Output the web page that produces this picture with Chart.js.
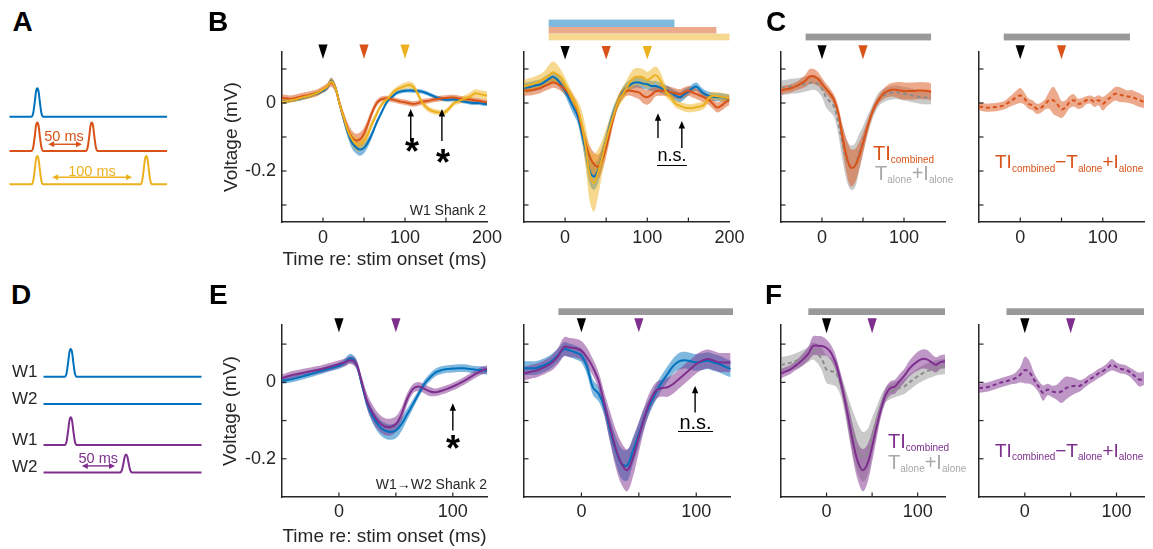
<!DOCTYPE html>
<html><head><meta charset="utf-8"><title>Figure</title>
<script src="https://cdn.jsdelivr.net/npm/chart.js@4.4.1/dist/chart.umd.min.js"></script>
<style>
html,body{margin:0;padding:0;background:#fff;}
body{width:1153px;height:549px;overflow:hidden;position:relative;font-family:"Liberation Sans",Arial,Helvetica,sans-serif;}
canvas{position:absolute;}
.tx{position:absolute;white-space:nowrap;line-height:1;}
.ul{position:absolute;height:1.5px;background:#000;}
</style></head><body>
<script>
// ================= DATA =================
const tB  = [-50,-45,-40,-35,-30,-25,-20,-15,-10,-5,0,5,10,15,20,25,30,35,40,45,50,55,60,65,70,75,80,85,90,95,100,105,110,115,120,125,130,135,140,145,150,155,160,165,170,175,180,185,190,195,200];
const tE  = [-50,-45,-40,-35,-30,-25,-20,-15,-10,-5,0,5,10,15,20,25,30,35,40,45,50,55,60,65,70,75,80,85,90,95,100,105,110,115,120,125,130];
const tCL = [-50,-45,-40,-35,-30,-25,-20,-15,-10,-5,0,5,10,15,20,25,30,35,40,45,50,55,60,65,70,75,80,85,90,95,100,105,110,115,120,125,130,133];
const tCR = [-50,-45,-40,-35,-30,-25,-20,-15,-10,-5,0,5,10,15,20,25,30,35,40,45,50,55,60,65,70,75,80,85,90,95,100,105,110,115,120,125,130,135,140,145,150];

// Panel B left (W1 Shank 2)
const BL_blue = [0.003,0.005,0.008,0.010,0.012,0.015,0.018,0.022,0.026,0.030,
 0.036,0.045,0.065,0.045,0.000,-0.045,-0.085,-0.115,-0.130,-0.137,
 -0.132,-0.115,-0.090,-0.060,-0.035,-0.010,0.010,0.020,0.030,0.034,
 0.036,0.037,0.036,0.035,0.034,0.030,0.025,0.020,0.015,0.012,
 0.010,0.010,0.010,0.008,0.005,0.003,0.001,0.000,0.000,-0.002,-0.003];
const BL_blueSem = [0.006,0.006,0.006,0.006,0.006,0.006,0.006,0.006,0.006,0.006,
 0.006,0.008,0.010,0.010,0.008,0.012,0.015,0.017,0.018,0.018,
 0.016,0.013,0.010,0.008,0.006,0.006,0.006,0.006,0.006,0.006,
 0.006,0.006,0.006,0.006,0.006,0.006,0.006,0.006,0.006,0.006,
 0.006,0.006,0.006,0.006,0.006,0.006,0.006,0.006,0.006,0.006,0.006];
const BL_orange = [0.015,0.014,0.012,0.014,0.017,0.020,0.022,0.025,0.028,0.033,
 0.040,0.048,0.060,0.045,0.000,-0.040,-0.075,-0.100,-0.110,-0.107,
 -0.090,-0.060,-0.027,-0.002,0.010,0.013,0.013,0.010,0.007,0.004,
 0.002,-0.001,-0.003,-0.001,0.003,0.005,0.007,0.010,0.012,0.014,
 0.015,0.016,0.016,0.014,0.012,0.011,0.010,0.008,0.007,0.004,0.002];
const BL_orangeSem = [0.010,0.010,0.010,0.010,0.010,0.010,0.010,0.010,0.010,0.010,
 0.010,0.010,0.012,0.012,0.012,0.015,0.018,0.020,0.020,0.020,
 0.018,0.015,0.012,0.010,0.008,0.008,0.008,0.008,0.008,0.008,
 0.008,0.008,0.008,0.008,0.008,0.008,0.008,0.008,0.008,0.008,
 0.008,0.008,0.008,0.008,0.008,0.008,0.008,0.008,0.008,0.008,0.008];
const BL_yellow = [0.003,0.005,0.008,0.010,0.013,0.016,0.019,0.022,0.027,0.032,
 0.040,0.048,0.063,0.045,0.000,-0.040,-0.080,-0.105,-0.120,-0.122,
 -0.112,-0.090,-0.060,-0.035,-0.010,0.005,0.015,0.030,0.040,0.045,
 0.050,0.053,0.048,0.030,0.005,-0.010,-0.020,-0.025,-0.027,-0.030,
 -0.025,-0.013,0.000,0.005,0.010,0.015,0.020,0.028,0.027,0.024,0.022];
const BL_yellowSem = [0.007,0.007,0.007,0.007,0.007,0.007,0.007,0.007,0.007,0.007,
 0.007,0.008,0.010,0.010,0.010,0.012,0.015,0.018,0.020,0.020,
 0.018,0.015,0.012,0.010,0.008,0.008,0.008,0.008,0.008,0.010,
 0.010,0.010,0.010,0.010,0.010,0.010,0.008,0.008,0.008,0.008,
 0.008,0.008,0.008,0.008,0.010,0.010,0.012,0.012,0.012,0.012,0.012];

// Panel B right
const BR_blue = [0.044,0.046,0.049,0.052,0.055,0.062,0.070,0.077,0.070,0.055,
 0.036,0.012,-0.013,-0.037,-0.085,-0.140,-0.200,-0.216,-0.200,-0.158,
 -0.110,-0.060,-0.022,0.007,0.031,0.046,0.055,0.060,0.060,0.057,
 0.055,0.050,0.050,0.046,0.040,0.036,0.028,0.021,0.017,0.026,
 0.034,0.044,0.048,0.036,0.026,0.021,0.018,0.017,0.017,0.015,0.012];
const BR_blueSem = [0.015,0.015,0.015,0.015,0.015,0.015,0.015,0.015,0.015,0.015,
 0.015,0.018,0.020,0.020,0.025,0.035,0.040,0.040,0.035,0.030,
 0.025,0.020,0.018,0.015,0.015,0.015,0.015,0.015,0.015,0.015,
 0.015,0.015,0.015,0.015,0.015,0.015,0.015,0.015,0.015,0.015,
 0.012,0.012,0.012,0.012,0.012,0.012,0.012,0.012,0.012,0.012,0.012];
const BR_orange = [0.036,0.037,0.038,0.041,0.044,0.050,0.055,0.060,0.057,0.050,
 0.040,0.026,0.007,-0.022,-0.070,-0.120,-0.158,-0.180,-0.187,-0.168,
 -0.130,-0.080,-0.032,0.007,0.026,0.036,0.036,0.034,0.031,0.021,
 0.017,0.024,0.034,0.036,0.036,0.034,0.031,0.028,0.026,0.031,
 0.036,0.031,0.026,0.021,0.015,0.009,-0.003,-0.013,-0.008,0.002,0.009];
const BR_orangeSem = [0.015,0.015,0.015,0.015,0.015,0.015,0.015,0.015,0.015,0.015,
 0.015,0.015,0.015,0.018,0.022,0.028,0.032,0.035,0.035,0.032,
 0.028,0.022,0.018,0.015,0.015,0.015,0.015,0.018,0.020,0.022,
 0.022,0.020,0.015,0.015,0.015,0.015,0.015,0.015,0.015,0.015,
 0.015,0.015,0.015,0.015,0.015,0.015,0.015,0.015,0.015,0.015,0.015];
const BR_yellow = [0.048,0.052,0.055,0.060,0.065,0.072,0.080,0.090,0.085,0.075,
 0.055,0.030,0.007,-0.015,-0.060,-0.130,-0.210,-0.235,-0.205,-0.160,
 -0.110,-0.066,-0.027,0.007,0.026,0.046,0.065,0.077,0.077,0.075,
 0.067,0.075,0.082,0.070,0.046,0.026,0.012,-0.003,-0.008,-0.013,
 -0.015,-0.015,-0.012,-0.010,-0.003,0.016,0.021,0.020,0.018,0.016,0.014];
const BR_yellowSem = [0.020,0.020,0.020,0.020,0.020,0.022,0.030,0.032,0.030,0.022,
 0.020,0.020,0.020,0.022,0.040,0.060,0.080,0.085,0.070,0.050,
 0.035,0.025,0.020,0.020,0.020,0.022,0.025,0.025,0.025,0.025,
 0.025,0.025,0.025,0.025,0.020,0.015,0.012,0.012,0.012,0.012,
 0.012,0.012,0.012,0.012,0.012,0.012,0.012,0.012,0.012,0.012,0.012];

// Panel C left (TI combined vs T alone + I alone)
const CL_comb = [0.037,0.040,0.042,0.046,0.051,0.058,0.066,0.078,0.078,0.071,
 0.056,0.042,0.027,0.008,-0.031,-0.100,-0.157,-0.190,-0.186,-0.157,
 -0.118,-0.075,-0.036,-0.007,0.013,0.027,0.035,0.039,0.039,0.037,
 0.035,0.035,0.035,0.036,0.037,0.036,0.035,0.032];
const CL_combSem = [0.012,0.012,0.012,0.012,0.012,0.015,0.018,0.022,0.022,0.020,
 0.018,0.015,0.015,0.015,0.020,0.035,0.050,0.055,0.050,0.040,
 0.030,0.020,0.015,0.012,0.012,0.015,0.018,0.020,0.022,0.025,
 0.025,0.025,0.025,0.025,0.025,0.025,0.025,0.025];
const CL_sum = [0.045,0.046,0.048,0.050,0.051,0.053,0.056,0.059,0.061,0.055,
 0.042,0.017,0.003,-0.012,-0.060,-0.118,-0.167,-0.190,-0.185,-0.148,
 -0.109,-0.070,-0.036,-0.007,0.013,0.022,0.027,0.030,0.032,0.030,
 0.027,0.025,0.022,0.020,0.017,0.016,0.016,0.016];
const CL_sumSem = [0.022,0.022,0.022,0.022,0.022,0.022,0.022,0.022,0.022,0.022,
 0.025,0.030,0.030,0.030,0.035,0.050,0.060,0.065,0.065,0.055,
 0.040,0.030,0.022,0.020,0.020,0.020,0.020,0.020,0.020,0.020,
 0.020,0.020,0.020,0.020,0.020,0.020,0.020,0.020];

// Panel C right (difference)
const CR_diff = [-0.010,-0.012,-0.014,-0.013,-0.012,-0.010,-0.007,0.000,0.008,0.016,
 0.022,0.013,-0.002,-0.007,-0.017,-0.014,-0.004,0.008,0.008,-0.004,
 -0.019,-0.012,0.003,0.008,-0.002,0.000,0.008,0.010,0.003,0.008,
 -0.002,0.008,0.018,0.027,0.025,0.022,0.019,0.018,0.013,0.008,0.003];
const CR_diffSem = [0.012,0.012,0.012,0.012,0.012,0.012,0.012,0.014,0.016,0.020,
 0.022,0.018,0.015,0.015,0.015,0.015,0.015,0.025,0.040,0.035,
 0.025,0.020,0.018,0.018,0.015,0.015,0.012,0.012,0.015,0.015,
 0.020,0.018,0.018,0.020,0.022,0.020,0.018,0.020,0.020,0.020,0.018];

// Panel E left (W1->W2 Shank 2)
const EL_blue = [0.004,0.006,0.009,0.013,0.017,0.021,0.026,0.030,0.035,0.039,
 0.043,0.052,0.063,0.050,-0.004,-0.057,-0.091,-0.113,-0.126,-0.130,
 -0.126,-0.109,-0.083,-0.057,-0.030,-0.004,0.013,0.026,0.032,0.035,
 0.036,0.037,0.037,0.035,0.033,0.032,0.030];
const EL_blueSem = [0.008,0.008,0.008,0.008,0.008,0.008,0.008,0.008,0.008,0.008,
 0.008,0.010,0.012,0.012,0.012,0.015,0.018,0.020,0.020,0.020,
 0.020,0.018,0.015,0.012,0.010,0.010,0.010,0.010,0.010,0.010,
 0.010,0.010,0.010,0.010,0.010,0.010,0.010];
const EL_purple = [0.011,0.016,0.020,0.023,0.026,0.029,0.032,0.035,0.039,0.043,
 0.048,0.052,0.058,0.050,0.000,-0.052,-0.083,-0.104,-0.115,-0.117,
 -0.109,-0.083,-0.043,-0.017,-0.011,-0.017,-0.024,-0.026,-0.022,-0.017,
 -0.011,-0.004,0.004,0.013,0.022,0.030,0.035];
const EL_purpleSem = [0.010,0.010,0.010,0.010,0.010,0.010,0.010,0.010,0.010,0.010,
 0.010,0.010,0.010,0.012,0.015,0.020,0.022,0.022,0.022,0.022,
 0.020,0.018,0.015,0.012,0.012,0.012,0.012,0.010,0.010,0.010,
 0.010,0.010,0.010,0.010,0.010,0.010,0.010];

// Panel E right
const ER_blue = [0.037,0.037,0.037,0.042,0.048,0.058,0.072,0.087,0.083,0.078,
 0.070,0.039,-0.013,-0.030,-0.065,-0.126,-0.178,-0.213,-0.217,-0.178,
 -0.135,-0.091,-0.057,-0.026,0.000,0.022,0.043,0.055,0.058,0.055,
 0.052,0.054,0.057,0.052,0.048,0.041,0.035];
const ER_blueSem = [0.018,0.018,0.018,0.018,0.018,0.018,0.018,0.018,0.018,0.018,
 0.018,0.020,0.020,0.020,0.022,0.030,0.035,0.040,0.040,0.035,
 0.030,0.025,0.020,0.020,0.020,0.020,0.020,0.022,0.022,0.022,
 0.022,0.022,0.022,0.022,0.022,0.022,0.022];
const ER_purple = [0.023,0.027,0.030,0.036,0.043,0.053,0.070,0.093,0.091,0.089,
 0.083,0.065,0.039,0.004,-0.057,-0.117,-0.174,-0.213,-0.230,-0.196,
 -0.143,-0.091,-0.048,-0.022,-0.015,-0.013,-0.004,0.009,0.022,0.035,
 0.048,0.057,0.061,0.057,0.052,0.052,0.052];
const ER_purpleSem = [0.018,0.018,0.018,0.018,0.018,0.020,0.022,0.025,0.025,0.025,
 0.025,0.025,0.022,0.022,0.030,0.040,0.050,0.055,0.055,0.050,
 0.040,0.030,0.025,0.022,0.022,0.025,0.025,0.025,0.025,0.025,
 0.025,0.025,0.025,0.025,0.025,0.025,0.025];

// Panel F left
const FL_comb = [0.023,0.028,0.033,0.042,0.051,0.062,0.075,0.095,0.096,0.095,
 0.090,0.077,0.051,0.007,-0.046,-0.107,-0.168,-0.212,-0.230,-0.212,
 -0.168,-0.116,-0.068,-0.032,-0.015,-0.011,0.003,0.016,0.033,0.046,
 0.055,0.061,0.060,0.053,0.046,0.053,0.055];
const FL_combSem = [0.012,0.012,0.012,0.012,0.014,0.016,0.018,0.025,0.025,0.025,
 0.022,0.020,0.020,0.020,0.025,0.035,0.045,0.050,0.055,0.050,
 0.040,0.030,0.020,0.018,0.018,0.018,0.018,0.018,0.020,0.022,
 0.025,0.025,0.025,0.022,0.020,0.018,0.018];
const FL_sum = [0.046,0.048,0.051,0.055,0.060,0.066,0.073,0.082,0.075,0.060,
 0.033,0.029,0.025,-0.002,-0.046,-0.098,-0.142,-0.177,-0.195,-0.182,
 -0.142,-0.098,-0.059,-0.032,-0.024,-0.019,-0.015,-0.011,-0.002,0.007,
 0.016,0.023,0.029,0.033,0.038,0.040,0.042];
const FL_sumSem = [0.020,0.020,0.020,0.020,0.020,0.020,0.020,0.022,0.025,0.030,
 0.035,0.035,0.035,0.030,0.035,0.050,0.060,0.065,0.065,0.060,
 0.050,0.035,0.025,0.020,0.020,0.020,0.020,0.020,0.020,0.020,
 0.020,0.020,0.020,0.020,0.020,0.020,0.020];

// Panel F right
const FR_diff = [-0.015,-0.014,-0.012,-0.008,-0.004,0.000,0.003,0.007,0.011,0.020,
 0.032,0.026,0.007,-0.011,-0.028,-0.019,-0.024,-0.026,-0.024,-0.015,
 -0.011,-0.009,-0.009,-0.002,0.007,0.014,0.023,0.029,0.038,0.046,
 0.040,0.035,0.033,0.026,0.016,0.007,0.011];
const FR_diffSem = [0.012,0.012,0.012,0.012,0.012,0.012,0.012,0.012,0.015,0.020,
 0.035,0.030,0.018,0.015,0.020,0.015,0.015,0.020,0.030,0.030,
 0.025,0.020,0.015,0.012,0.012,0.012,0.012,0.012,0.012,0.015,
 0.012,0.012,0.012,0.012,0.015,0.018,0.018];

// Tick positions / labels
const xTicksB = [0,50,100,150,200], xLabelsB = ['0','','100','','200'];
const xTicksC = [0,50,100], xLabelsC = ['0','','100'];
const xTicksE = [0,50,100], xLabelsE = ['0','','100'];
const yTicksTop = [0.1,0,-0.1,-0.2,-0.3], yLabelsTop = ['','0','','-0.2',''];
const yTicksBot = [0.1,0,-0.1,-0.2], yLabelsBot = ['','0','','-0.2'];

// Significance bars (ms) and stimulus markers (ms)
const sigB = [[-20,133],[-20,184],[-20,200]];
const sigC = [-20,133], sigE = [-20,132], sigF = [-20,130];
const stimB = [0,50,100], stimTwo = [0,50];

// Schematic pulse template and stimulus trains
const pulseT = [-5.5,-3.8,-2.4,-1.2,0,1.2,2.4,3.8,5.5];
const pulseV = [0,0.12,0.5,0.88,1,0.88,0.5,0.12,0];
const schemA_onsets = [[0],[0,50],[0,100]];
const schemA_heights = [[1],[1,1],[1,1]];
const schemA_base = [0,-1.21,-2.39];
const schemD_onsets = [[0],[],[0],[50]];
const schemD_heights = [[1],[],[1],[0.65]];
const schemD_base = [0,-0.986,-2.466,-3.46];

// ================= RENDER =================
Chart.defaults.font.family = '"Liberation Sans", Arial, Helvetica, sans-serif';
Chart.defaults.color = '#262626';
const COL = {blue:'#0072BD', orange:'#D95319', yellow:'#EDB120', purple:'#7E2F8E', gray:'#8c8c8c', black:'#000'};
const BAND = {blue:'rgba(0,114,189,0.5)', orange:'rgba(217,83,25,0.5)', yellow:'rgba(237,177,32,0.5)', purple:'rgba(126,47,142,0.5)', gray:'rgba(128,128,128,0.42)'};
const BAR = {blue:'#80b9de', orange:'#ecaa8d', yellow:'#f6d890', gray:'#999999'};

function makeDeco(o) {
  return {
    id: 'deco',
    afterDraw(chart) {
      const ctx = chart.ctx, ca = chart.chartArea, xs = chart.scales.x, ys = chart.scales.y;
      ctx.save();
      if (o.inTicks) {
        ctx.strokeStyle = '#262626'; ctx.lineWidth = 1.2;
        o.inTicks.x.forEach(v => { if (v <= xs.min || v >= xs.max) return; const px = xs.getPixelForValue(v); ctx.beginPath(); ctx.moveTo(px, ca.bottom); ctx.lineTo(px, ca.bottom - 4.5); ctx.stroke(); });
        o.inTicks.y.forEach(v => { if (v <= ys.min || v >= ys.max) return; const py = ys.getPixelForValue(v); ctx.beginPath(); ctx.moveTo(ca.left, py); ctx.lineTo(ca.left + 4.5, py); ctx.stroke(); });
      }
      (o.bars || []).forEach(b => {
        const x0 = xs.getPixelForValue(b.x0), x1 = xs.getPixelForValue(b.x1);
        ctx.fillStyle = b.color; ctx.fillRect(x0, ca.top + b.dy, x1 - x0, b.h);
      });
      (o.tris || []).forEach(tr => {
        const px = xs.getPixelForValue(tr.x), y0 = ca.top + o.triDy;
        ctx.fillStyle = tr.color; ctx.beginPath();
        ctx.moveTo(px - 4.6, y0); ctx.lineTo(px + 4.6, y0); ctx.lineTo(px, y0 + o.triH); ctx.closePath(); ctx.fill();
      });
      (o.vArrows || []).forEach(a => {
        const px = xs.getPixelForValue(a.x), y0 = ys.getPixelForValue(a.y0), y1 = ys.getPixelForValue(a.y1);
        ctx.strokeStyle = '#000'; ctx.fillStyle = '#000'; ctx.lineWidth = 1.4;
        ctx.beginPath(); ctx.moveTo(px, y0); ctx.lineTo(px, y1 + 5); ctx.stroke();
        ctx.beginPath(); ctx.moveTo(px, y1); ctx.lineTo(px - 3.2, y1 + 7.5); ctx.lineTo(px + 3.2, y1 + 7.5); ctx.closePath(); ctx.fill();
      });
      (o.hArrows || []).forEach(a => {
        const x0 = xs.getPixelForValue(a.x0), x1 = xs.getPixelForValue(a.x1), py = ys.getPixelForValue(a.y);
        ctx.strokeStyle = a.color; ctx.fillStyle = a.color; ctx.lineWidth = 1.4;
        ctx.beginPath(); ctx.moveTo(x0 + 4, py); ctx.lineTo(x1 - 4, py); ctx.stroke();
        ctx.beginPath(); ctx.moveTo(x0, py); ctx.lineTo(x0 + 6, py - 3); ctx.lineTo(x0 + 6, py + 3); ctx.closePath(); ctx.fill();
        ctx.beginPath(); ctx.moveTo(x1, py); ctx.lineTo(x1 - 6, py - 3); ctx.lineTo(x1 - 6, py + 3); ctx.closePath(); ctx.fill();
      });
      ctx.restore();
    }
  };
}

function bandDatasets(series) {
  const bands = [], lines = [], n = series.length;
  series.forEach((s, k) => {
    const up = s.t.map((t, i) => ({x: t, y: s.m[i] + s.e[i]}));
    const lo = s.t.map((t, i) => ({x: t, y: s.m[i] - s.e[i]}));
    const mid = s.t.map((t, i) => ({x: t, y: s.m[i]}));
    const common = {pointRadius: 0, tension: 0.35, borderWidth: 0, borderColor: 'rgba(0,0,0,0)'};
    bands.push(Object.assign({data: up, fill: '+1', backgroundColor: BAND[s.c], order: 100 + n - k}, common));
    bands.push(Object.assign({data: lo, fill: false, order: 100 + n - k}, common));
    lines.push({data: mid, fill: false, borderColor: s.lc || COL[s.c], borderWidth: 2, borderDash: s.dash || [],
      pointRadius: 0, tension: 0.35, order: n - k, borderCapStyle: 'butt', borderJoinStyle: 'round'});
  });
  return bands.concat(lines);
}

function newCanvas(l, t, r, b, ML, MT, MR, MB) {
  const cl = Math.floor(l - ML), ct = Math.floor(t - MT);
  const W = Math.ceil(r + MR) - cl, H = Math.ceil(b + MB) - ct;
  const cv = document.createElement('canvas');
  cv.width = W; cv.height = H;
  cv.style.left = cl + 'px'; cv.style.top = ct + 'px';
  cv.style.width = W + 'px'; cv.style.height = H + 'px';
  document.body.appendChild(cv);
  return {cv, cl, ct, W, H};
}

function axisPanel(p) {
  const g = newCanvas(p.l, p.t, p.r, p.b, 80, 50, 30, 56);
  const yW = p.l - g.cl, padT = p.t - g.ct, padR = g.cl + g.W - p.r, xH = g.ct + g.H - p.b;
  const axisCol = '#262626';
  new Chart(g.cv, {
    type: 'line',
    data: {datasets: bandDatasets(p.series)},
    options: {
      responsive: false, animation: false, events: [], devicePixelRatio: 1,
      layout: {padding: {left: 0, top: padT, right: padR, bottom: 0}},
      plugins: {legend: {display: false}, tooltip: {enabled: false}},
      scales: {
        x: {type: 'linear', min: p.xr[0], max: p.xr[1],
          afterFit: s => { s.height = xH; },
          afterBuildTicks: s => { s.ticks = p.xt.map(v => ({value: v})); },
          ticks: {autoSkip: false, maxRotation: 0, padding: p.xPad, font: {size: 18}, color: axisCol, callback: (v, i) => p.xl[i]},
          grid: {display: false, drawTicks: false},
          border: {display: true, color: axisCol, width: 1.5},
          title: p.xTitle ? {display: true, text: p.xTitle, color: axisCol, font: {size: 19}, padding: {top: 0, bottom: (g.ct + g.H) - p.xTitleY - 11.4}} : {display: false}
        },
        y: {type: 'linear', min: p.yr[0], max: p.yr[1],
          afterFit: s => { s.width = yW; },
          afterBuildTicks: s => { s.ticks = p.yt.map(v => ({value: v})); },
          ticks: {autoSkip: false, padding: 6, font: {size: 18}, color: axisCol, callback: (v, i) => p.yl[i]},
          grid: {display: false, drawTicks: false},
          border: {display: true, color: axisCol, width: 1.5},
          title: p.yTitle ? {display: true, text: p.yTitle, color: axisCol, font: {size: 19}, padding: {top: p.yTitleX - g.cl - 11.4, bottom: 0}} : {display: false}
        }
      }
    },
    plugins: [makeDeco(Object.assign({inTicks: {x: p.xt, y: p.yt}}, p.deco))]
  });
}

function buildTrace(onsets, heights, base, x0, x1) {
  const pts = [{x: x0, y: base}];
  onsets.forEach((on, j) => pulseT.forEach((dt, i) => pts.push({x: on + dt, y: base + heights[j] * pulseV[i]})));
  pts.push({x: x1, y: base});
  return pts;
}

function schemPanel(p) {
  const g = newCanvas(p.l, p.t, p.r, p.b, 8, 8, 8, 8);
  const ds = p.onsets.map((on, k) => ({
    data: buildTrace(on, p.heights[k], p.base[k], p.xr[0], p.xr[1]),
    borderColor: p.colors[k], borderWidth: 2, pointRadius: 0, fill: false, cubicInterpolationMode: 'monotone'
  }));
  new Chart(g.cv, {
    type: 'line', data: {datasets: ds},
    options: {
      responsive: false, animation: false, events: [], devicePixelRatio: 1,
      layout: {padding: {left: p.l - g.cl, top: p.t - g.ct, right: g.cl + g.W - p.r, bottom: g.ct + g.H - p.b}},
      plugins: {legend: {display: false}, tooltip: {enabled: false}},
      scales: {x: {type: 'linear', display: false, min: p.xr[0], max: p.xr[1]},
               y: {type: 'linear', display: false, min: p.yr[0], max: p.yr[1]}}
    },
    plugins: [makeDeco({hArrows: p.arrows})]
  });
}

// ---- Schematics A and D ----
schemPanel({l: 9.3, r: 167.3, t: 82.7, b: 193.1, xr: [-25.7, 119.3], yr: [-2.7, 1.2],
  onsets: schemA_onsets, heights: schemA_heights, base: schemA_base, colors: [COL.blue, COL.orange, COL.yellow],
  arrows: [{x0: 10, x1: 41, y: -0.975, color: COL.orange}, {x0: 13.6, x1: 87, y: -2.14, color: COL.yellow}]});
schemPanel({l: 43.3, r: 201.7, t: 343.5, b: 479.2, xr: [-24.8, 118.4], yr: [-3.7, 1.2],
  onsets: schemD_onsets, heights: schemD_heights, base: schemD_base, colors: [COL.blue, COL.blue, COL.purple, COL.purple],
  arrows: [{x0: 10, x1: 40, y: -3.22, color: COL.purple}]});

// ---- Row 1 ----
const topRow = {t: 52, b: 222, yr: [-0.35, 0.15], yt: yTicksTop, xPad: 5.5};
axisPanel(Object.assign({}, topRow, {l: 282, r: 487, xr: [-50, 200], xt: xTicksB, xl: xLabelsB, yl: yLabelsTop,
  xTitle: 'Time re: stim onset (ms)', xTitleY: 260, yTitle: 'Voltage (mV)', yTitleX: 231.7,
  series: [{t: tB, m: BL_blue, e: BL_blueSem, c: 'blue'}, {t: tB, m: BL_orange, e: BL_orangeSem, c: 'orange'}, {t: tB, m: BL_yellow, e: BL_yellowSem, c: 'yellow'}],
  deco: {triDy: -7.5, triH: 14.5, tris: [{x: stimB[0], color: COL.black}, {x: stimB[1], color: COL.orange}, {x: stimB[2], color: COL.yellow}],
    vArrows: [{x: 107, y0: -0.112, y1: -0.018}, {x: 145, y0: -0.112, y1: -0.018}]}}));
axisPanel(Object.assign({}, topRow, {l: 524, r: 729.5, xr: [-50, 200], xt: xTicksB, xl: xLabelsB, yl: ['', '', '', '', ''],
  series: [{t: tB, m: BR_blue, e: BR_blueSem, c: 'blue'}, {t: tB, m: BR_orange, e: BR_orangeSem, c: 'orange'}, {t: tB, m: BR_yellow, e: BR_yellowSem, c: 'yellow'}],
  deco: {triDy: -6, triH: 13.5, tris: [{x: stimB[0], color: COL.black}, {x: stimB[1], color: COL.orange}, {x: stimB[2], color: COL.yellow}],
    bars: [{x0: sigB[0][0], x1: sigB[0][1], dy: -32.4, h: 7.4, color: BAR.blue}, {x0: sigB[1][0], x1: sigB[1][1], dy: -25, h: 6.6, color: BAR.orange}, {x0: sigB[2][0], x1: sigB[2][1], dy: -18.4, h: 6.7, color: BAR.yellow}],
    vArrows: [{x: 113, y0: -0.103, y1: -0.03}, {x: 142, y0: -0.132, y1: -0.053}]}}));
axisPanel(Object.assign({}, topRow, {l: 781, r: 945, xr: [-50, 150], xt: xTicksC, xl: xLabelsC, yl: ['', '', '', '', ''],
  series: [{t: tCL, m: CL_sum, e: CL_sumSem, c: 'gray', lc: '#8c8c8c', dash: [4, 3]}, {t: tCL, m: CL_comb, e: CL_combSem, c: 'orange'}],
  deco: {triDy: -6.7, triH: 14, tris: [{x: stimTwo[0], color: COL.black}, {x: stimTwo[1], color: COL.orange}],
    bars: [{x0: sigC[0], x1: sigC[1], dy: -18.4, h: 6.8, color: BAR.gray}]}}));
axisPanel(Object.assign({}, topRow, {l: 979, r: 1144, xr: [-50, 150], xt: xTicksC, xl: xLabelsC, yl: ['', '', '', '', ''],
  series: [{t: tCR, m: CR_diff, e: CR_diffSem, c: 'orange', dash: [4, 3]}],
  deco: {triDy: -6.7, triH: 14, tris: [{x: stimTwo[0], color: COL.black}, {x: stimTwo[1], color: COL.orange}],
    bars: [{x0: sigC[0], x1: sigC[1], dy: -18.4, h: 6.8, color: BAR.gray}]}}));

// ---- Row 2 ----
const botRow = {t: 325, b: 497, yr: [-0.3, 0.15], yt: yTicksBot, xPad: 4};
axisPanel(Object.assign({}, botRow, {l: 282, r: 487, xr: [-50, 130], xt: xTicksE, xl: xLabelsE, yl: yLabelsBot,
  xTitle: 'Time re: stim onset (ms)', xTitleY: 537, yTitle: 'Voltage (mV)', yTitleX: 230.5,
  series: [{t: tE, m: EL_blue, e: EL_blueSem, c: 'blue'}, {t: tE, m: EL_purple, e: EL_purpleSem, c: 'purple'}],
  deco: {triDy: -6.7, triH: 14, tris: [{x: stimTwo[0], color: COL.black}, {x: stimTwo[1], color: COL.purple}],
    vArrows: [{x: 100, y0: -0.126, y1: -0.055}]}}));
axisPanel(Object.assign({}, botRow, {l: 524, r: 730.7, xr: [-50, 130], xt: xTicksE, xl: xLabelsE, yl: ['', '', '', ''],
  series: [{t: tE, m: ER_blue, e: ER_blueSem, c: 'blue'}, {t: tE, m: ER_purple, e: ER_purpleSem, c: 'purple'}],
  deco: {triDy: -6.7, triH: 14, tris: [{x: stimTwo[0], color: COL.black}, {x: stimTwo[1], color: COL.purple}],
    bars: [{x0: sigE[0], x1: sigE[1], dy: -16.7, h: 6.7, color: BAR.gray}],
    vArrows: [{x: 99, y0: -0.079, y1: -0.009}]}}));
axisPanel(Object.assign({}, botRow, {l: 781, r: 945, xr: [-50, 130], xt: xTicksE, xl: xLabelsE, yl: ['', '', '', ''],
  series: [{t: tE, m: FL_sum, e: FL_sumSem, c: 'gray', lc: '#8c8c8c', dash: [4, 3]}, {t: tE, m: FL_comb, e: FL_combSem, c: 'purple'}],
  deco: {triDy: -6.7, triH: 15, tris: [{x: stimTwo[0], color: COL.black}, {x: stimTwo[1], color: COL.purple}],
    bars: [{x0: sigF[0], x1: sigF[1], dy: -16.7, h: 6.7, color: BAR.gray}]}}));
axisPanel(Object.assign({}, botRow, {l: 979, r: 1144, xr: [-50, 130], xt: xTicksE, xl: xLabelsE, yl: ['', '', '', ''],
  series: [{t: tE, m: FR_diff, e: FR_diffSem, c: 'purple', dash: [4, 3]}],
  deco: {triDy: -6.7, triH: 15, tris: [{x: stimTwo[0], color: COL.black}, {x: stimTwo[1], color: COL.purple}],
    bars: [{x0: sigF[0], x1: sigF[1], dy: -16.7, h: 6.7, color: BAR.gray}]}}));

// ---- Text ----
function text(html, x, baseline, size, color, align, weight) {
  const d = document.createElement('div');
  d.className = 'tx';
  d.innerHTML = html;
  d.style.fontSize = size + 'px';
  d.style.color = color;
  if (weight) d.style.fontWeight = weight;
  d.style.left = x + 'px';
  d.style.top = (baseline - 0.8465 * size) + 'px';
  if (align === 'center') d.style.transform = 'translateX(-50%)';
  if (align === 'right') d.style.transform = 'translateX(-100%)';
  document.body.appendChild(d);
  return d;
}
function uline(x0, x1, y) {
  const d = document.createElement('div'); d.className = 'ul';
  d.style.left = x0 + 'px'; d.style.width = (x1 - x0) + 'px'; d.style.top = (y - 0.75) + 'px';
  document.body.appendChild(d);
}
const sub = (s, dy) => '<span style="font-size:10px;position:relative;top:' + (dy || 3) + 'px">' + s + '</span>';

// panel letters
[['A', 12.5, 31.7], ['B', 208, 31.7], ['C', 766, 31.7], ['D', 11, 305], ['E', 209, 305], ['F', 765, 305]].forEach(a => text(a[0], a[1], a[2], 28, '#000', 'left', 'bold'));

// schematic labels
text('50 ms', 64, 141.5, 14.5, COL.orange, 'center');
text('100 ms', 92, 176.3, 14.5, COL.yellow, 'center');
text('W1', 37.5, 377.3, 17, '#262626', 'right');
text('W2', 37.5, 404.3, 17, '#262626', 'right');
text('W1', 37.5, 445.3, 17, '#262626', 'right');
text('W2', 37.5, 472.7, 17, '#262626', 'right');
text('50 ms', 98.3, 463.3, 14.5, COL.purple, 'center');

// annotations
text('W1 Shank 2', 486, 215, 14, '#262626', 'right');
text('W1\u2192W2 Shank 2', 487, 489, 14, '#262626', 'right');
text('*', 412, 164, 36, '#000', 'center', 'bold');
text('*', 443, 175, 36, '#000', 'center', 'bold');
text('*', 453, 461, 36, '#000', 'center', 'bold');
text('n.s.', 672, 161.7, 18, '#000', 'center');
uline(657, 687, 165.7);
text('n.s.', 695.5, 428.5, 20, '#000', 'center');
uline(678, 713, 431.7);

// TI labels
text('TI' + sub('combined'), 873, 160, 20, COL.orange, 'left');
text('T' + sub('alone') + '+I' + sub('alone'), 875, 180, 20, '#a8a8a8', 'left');
text('TI' + sub('combined', 4) + '\u2212T' + sub('alone', 4) + '+I' + sub('alone', 4), 995, 168.3, 19, COL.orange, 'left');
text('TI' + sub('combined'), 888, 448.3, 20, COL.purple, 'left');
text('T' + sub('alone') + '+I' + sub('alone'), 888, 469.3, 20, '#a8a8a8', 'left');
text('TI' + sub('combined') + '\u2212T' + sub('alone') + '+I' + sub('alone'), 995, 456.7, 19, COL.purple, 'left');
</script>
</body></html>
